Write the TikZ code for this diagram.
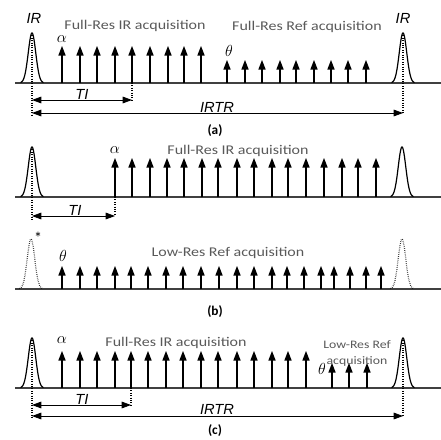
\documentclass[tikz,border=0pt]{standalone}
\usepackage{fontspec}
\setmainfont{Carlito}
\newfontfamily\labelfont{Liberation Sans}
\newfontfamily\acqfont[FakeStretch=1.2]{Carlito}
\usepackage{tikz}
\usetikzlibrary{positioning,arrows.meta}
\tikzset{
    axis line/.style={draw=black!75, line width=1.5pt},
    guide/.style={densely dotted, line width=0.8pt},
    interval/.style={{Triangle[length=7pt,width=5pt]}-{Triangle[length=7pt,width=5pt]}, line width=0.6pt},
    time label/.style={font=\labelfont\itshape\fontsize{11}{12}\selectfont, inner sep=0pt, anchor=base},
    flip label/.style={font=\fontsize{12}{12}\selectfont, inner sep=0pt},
    acq label/.style={font=\acqfont\fontsize{10}{13}\selectfont, text=black!65, align=center, inner sep=0pt},
    panel label/.style={font=\bfseries\fontsize{10}{12}\selectfont, inner sep=0pt},
    inversion/.pic={
        \draw[line width=0.9pt] plot[domain=-11.5:11.5, samples=47] (\x, {-50*exp(-(\x/5.3)^2)});
        \coordinate (-top) at (0,-50);
    },
    rf/.pic={
        \coordinate (-base) at (0,0);
        \coordinate (-tip) at (0,-#1);
        \draw[line width=0.9pt] (-base) -- (0,{-#1+7});
        \fill (-3.7,{-#1+9.5}) -- (-tip) -- (3.7,{-#1+9.5}) -- cycle;
    }
}

\begin{document}
\begin{tikzpicture}[x=0.75pt, y=-0.75pt]
    \useasboundingbox (0,0) rectangle (441,439);

    % (a)
    \draw[axis line] (15,83) -- (441,83);
    \pic (irA) at (32,83) {inversion};
    \pic (irB) at (403,83) {inversion};
    \foreach \px [count=\k] in {62,80,97,115,132,150,168,184,201}
        \pic (fullA\k) at (\px,83) {rf=37};
    \foreach \px [count=\k] in {227,245,262,280,296,314,331,348,366}
        \pic (refA\k) at (\px,83) {rf=23};
    \node[time label] (irA-lab) at (34,23) {IR};
    \node[time label] (irB-lab) at (403,23) {IR};
    \node[flip label] (alphaA) at (62,39) {$\alpha$};
    \node[flip label] (thetaA) at (229,51) {$\theta$};
    \node[acq label] (acqA1) at (135,26) {Full-Res IR acquisition};
    \node[acq label] (acqA2) at (307,27) {Full-Res Ref acquisition};

    \coordinate (tiA-l) at (32,100);
    \coordinate (tiA-r) at (132,100);
    \coordinate (irtrA-l) at (32,113);
    \coordinate (irtrA-r) at (403,113);
    \coordinate (guideA) at (32,116);
    \draw[interval] (tiA-l) -- (tiA-r);
    \draw[interval] (irtrA-l) -- (irtrA-r);
    \draw[guide] (irA-top) -- (guideA);
    \draw[guide] (irB-top) -- (irtrA-r);
    \draw[guide] (fullA5-base) -- (tiA-r);
    \node[time label] (tiA) at (82,99) {TI};
    \node[time label] (irtrA) at (217,112) {IRTR};
    \node[panel label] (capA) at (215,131) {(a)};

    % (b)
    \draw[axis line] (15,197) -- (441,197);
    \pic (irC) at (32,197) {inversion};
    \pic (irD) at (402,197) {inversion};
    \foreach \px [count=\k] in {115,132,150,167,184,202,218,237,254,272,288,306,324,342,358,376}
        \pic (fullB\k) at (\px,197) {rf=39};
    \node[flip label] (alphaB) at (115,150) {$\alpha$};
    \node[acq label] (acqB1) at (238,151) {Full-Res IR acquisition};
    \coordinate (tiB-l) at (32,216);
    \coordinate (tiB-r) at (115,216);
    \coordinate (guideB) at (32,220);
    \draw[interval] (tiB-l) -- (tiB-r);
    \draw[guide] (irC-top) -- (guideB);
    \draw[guide] (fullB1-base) -- (tiB-r);
    \node[time label] (tiB) at (75,215) {TI};

    \draw[axis line] (15,289) -- (441,289);
    \pic[densely dotted] (irE) at (31,289) {inversion};
    \pic[densely dotted] (irF) at (402,289) {inversion};
    \foreach \px [count=\k] in {62,80,97,115,131,148,166,183,201,219,237,254,272,287,304,321,334,350,366,381}
        \pic (lowB\k) at (\px,289) {rf=23};
    \node[flip label] (star) at (38,238) {*};
    \node[flip label] (thetaB) at (63,256) {$\theta$};
    \node[acq label] (acqB2) at (228,253) {Low-Res Ref acquisition};
    \node[panel label] (capB) at (215,312) {(b)};

    % (c)
    \draw[axis line] (15,388) -- (441,388);
    \pic (irG) at (32,388) {inversion};
    \pic (irH) at (403,388) {inversion};
    \foreach \px [count=\k] in {62,80,97,115,131,148,166,183,201,218,237,254,272,288,306}
        \pic (fullC\k) at (\px,388) {rf=37};
    \foreach \px [count=\k] in {332,349,367}
        \pic (lowC\k) at (\px,388) {rf=25};
    \node[flip label] (alphaC) at (62,340) {$\alpha$};
    \node[flip label] (thetaC) at (322,369) {$\theta$};
    \node[acq label] (acqC1) at (176,343) {Full-Res IR acquisition};
    \node[acq label, font=\acqfont\fontsize{8.6}{12}\selectfont] (acqC2) at (357,353) {Low-Res Ref\\acquisition};

    \coordinate (tiC-l) at (32,405);
    \coordinate (tiC-r) at (131,405);
    \coordinate (irtrC-l) at (32,416);
    \coordinate (irtrC-r) at (403,416);
    \coordinate (guideC) at (32,418);
    \draw[interval] (tiC-l) -- (tiC-r);
    \draw[interval] (irtrC-l) -- (irtrC-r);
    \draw[guide] (irG-top) -- (guideC);
    \draw[guide] (irH-top) -- (irtrC-r);
    \draw[guide] (fullC5-base) -- (tiC-r);
    \node[time label] (tiC) at (82,404) {TI};
    \node[time label] (irtrC) at (217,414) {IRTR};
    \node[panel label] (capC) at (215,431) {(c)};
\end{tikzpicture}
\end{document}
